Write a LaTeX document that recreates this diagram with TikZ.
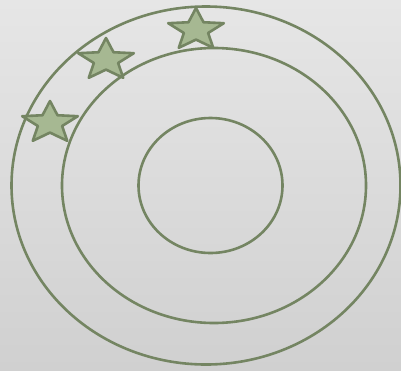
\documentclass[tikz,border=0pt]{standalone}
\usepackage{xcolor}
\usepackage{tikz}
\definecolor{ringgreen}{RGB}{116,133,98}
\definecolor{starfill}{RGB}{166,184,146}
\definecolor{bgtop}{RGB}{230,230,230}
\definecolor{bgbottom}{RGB}{208,208,208}
\tikzstyle{ring} = [draw=ringgreen, line width=2.6pt]
\tikzstyle{badge} = [draw=ringgreen, fill=starfill, line width=2.6pt, line join=round]

\begin{document}
\begin{tikzpicture}[x=1pt, y=-1pt]
    \shade[top color=bgtop, bottom color=bgbottom] (0,0) rectangle (401,370);
    \useasboundingbox (0,0) rectangle (401,370);
    \draw[ring] (206,185.5) ellipse [x radius=194.5, y radius=179];
    \draw[ring] (214,185.5) ellipse [x radius=152, y radius=137.5];
    \draw[ring] (210.5,185.5) ellipse [x radius=72, y radius=67.5];
    % stars on the outer band
    \foreach \cx/\cy in {196/30, 106/60, 50/123}
        \draw[badge, shift={(\cx,\cy)}, xscale=1.33, yscale=-1]
        (90:22) -- (126:9.6) -- (162:22) -- (198:9.6) -- (234:22) -- (270:9.6)
        -- (306:22) -- (342:9.6) -- (18:22) -- (54:9.6) -- cycle;
\end{tikzpicture}
\end{document}
